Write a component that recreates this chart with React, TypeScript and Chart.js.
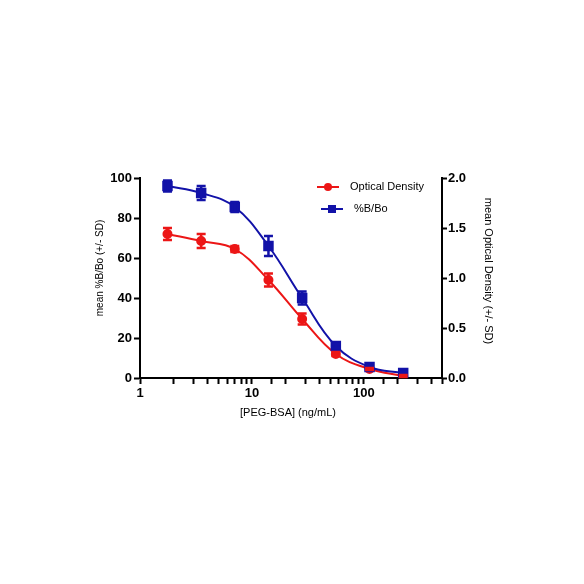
import React, { useEffect, useRef } from "react";
import { Chart, registerables } from "chart.js";

Chart.register(...registerables);

// ---- Data ----
const concentrations = [1.76, 3.52, 7.03, 14.06, 28.13, 56.25, 112.5, 225];
const pctBBo = [96, 92.5, 85.5, 66, 40, 16, 5.5, 2.5];
const pctBBoSD = [2.7, 3.5, 2.5, 5, 3.2, 1, 0.8, 0.5];
const opticalDensity = [1.44, 1.37, 1.29, 0.98, 0.59, 0.24, 0.09, 0.02];
const opticalDensitySD = [0.06, 0.07, 0.03, 0.065, 0.055, 0.02, 0.01, 0.01];
const xTickLabels = [1, 10, 100];
const seriesNames = ["Optical Density", "%B/Bo"];
const xTitle = "[PEG-BSA] (ng/mL)";
const leftTitle = "mean %B/Bo (+/- SD)";
const rightTitle = "mean Optical Density (+/- SD)";

const RED = "rgb(236,22,22)";
const BLUE = "rgb(18,18,168)";
const FONT = "'Liberation Sans', Arial, sans-serif";

const errorBarPlugin = {
  id: "errorBars",
  afterDatasetsDraw(chart: any) {
    const ctx = chart.ctx;
    const xScale = chart.scales.x;
    chart.data.datasets.forEach((ds: any) => {
      const sd = ds.sd as number[] | undefined;
      if (!sd) return;
      const yScale = chart.scales[ds.yAxisID];
      ctx.save();
      ctx.strokeStyle = ds.borderColor;
      ctx.lineWidth = 2.5;
      ds.data.forEach((pt: any, j: number) => {
        const x = xScale.getPixelForValue(pt.x);
        const yTop = yScale.getPixelForValue(pt.y + sd[j]);
        const yBot = yScale.getPixelForValue(pt.y - sd[j]);
        ctx.beginPath();
        ctx.moveTo(x, yTop);
        ctx.lineTo(x, yBot);
        ctx.moveTo(x - 4.5, yTop);
        ctx.lineTo(x + 4.5, yTop);
        ctx.moveTo(x - 4.5, yBot);
        ctx.lineTo(x + 4.5, yBot);
        ctx.stroke();
      });
      ctx.restore();
    });
  },
};

const titlesPlugin = {
  id: "axisTitles",
  afterDraw(chart: any) {
    const ctx = chart.ctx;
    const { left, right, top, bottom } = chart.chartArea;
    ctx.save();
    ctx.fillStyle = "#000";
    ctx.textAlign = "center";
    ctx.textBaseline = "middle";
    // x title
    ctx.font = `11px ${FONT}`;
    ctx.fillText(xTitle, (left + right) / 2 - 3, bottom + 35);
    // left title
    ctx.save();
    ctx.translate(left - 40, (top + bottom) / 2 - 10);
    ctx.rotate(-Math.PI / 2);
    ctx.font = `10px ${FONT}`;
    ctx.fillText(leftTitle, 0, 0);
    ctx.restore();
    // right title
    ctx.save();
    ctx.translate(right + 46, (top + bottom) / 2 - 7);
    ctx.rotate(Math.PI / 2);
    ctx.font = `11px ${FONT}`;
    ctx.fillText(rightTitle, 0, 0);
    ctx.restore();
    ctx.restore();
  },
};

const legendPlugin = {
  id: "customLegend",
  afterDraw(chart: any) {
    const ctx = chart.ctx;
    const { left, top } = chart.chartArea;
    const items = [
      { label: seriesNames[0], color: RED, style: "circle", cx: left + 188, tx: left + 210, dy: 9 },
      { label: seriesNames[1], color: BLUE, style: "rect", cx: left + 192, tx: left + 214, dy: 31 },
    ];
    ctx.save();
    items.forEach((it) => {
      const y = top + it.dy;
      ctx.strokeStyle = it.color;
      ctx.fillStyle = it.color;
      ctx.lineWidth = 2;
      ctx.beginPath();
      ctx.moveTo(it.cx - 11, y);
      ctx.lineTo(it.cx + 11, y);
      ctx.stroke();
      ctx.beginPath();
      if (it.style === "circle") {
        ctx.arc(it.cx, y, 4, 0, Math.PI * 2);
      } else {
        ctx.rect(it.cx - 4, y - 4, 8, 8);
      }
      ctx.fill();
      ctx.fillStyle = "#000";
      ctx.font = `11px ${FONT}`;
      ctx.textBaseline = "middle";
      ctx.textAlign = "left";
      ctx.fillText(it.label, it.tx, y);
    });
    ctx.restore();
  },
};

export default function App() {
  const canvasRef = useRef<HTMLCanvasElement | null>(null);

  useEffect(() => {
    if (!canvasRef.current) return;
    Chart.defaults.color = "#000";
    const gridCommon = {
      drawOnChartArea: false,
      drawTicks: true,
      tickLength: 6,
      tickColor: "#000",
      tickWidth: 2,
      color: "#000",
    };
    const borderCommon = { display: true, color: "#000", width: 2 };
    const tickFont = { family: FONT, size: 13, weight: "bold" as const };

    const chart = new Chart(canvasRef.current, {
      type: "line",
      data: {
        datasets: [
          {
            label: seriesNames[1],
            data: concentrations.map((x, i) => ({ x, y: pctBBo[i] })),
            sd: pctBBoSD,
            yAxisID: "y",
            borderColor: BLUE,
            backgroundColor: BLUE,
            pointBackgroundColor: BLUE,
            pointBorderColor: BLUE,
            pointStyle: "rect",
            pointRadius: 6,
            borderWidth: 2,
            tension: 0.4,
            fill: false,
          } as any,
          {
            label: seriesNames[0],
            data: concentrations.map((x, i) => ({ x, y: opticalDensity[i] })),
            sd: opticalDensitySD,
            yAxisID: "y1",
            borderColor: RED,
            backgroundColor: RED,
            pointBackgroundColor: RED,
            pointBorderColor: RED,
            pointStyle: "circle",
            pointRadius: 4,
            borderWidth: 2,
            tension: 0.4,
            fill: false,
          } as any,
        ],
      },
      options: {
        responsive: false,
        animation: false,
        layout: { padding: { left: 88, right: 90, top: 178, bottom: 164 } },
        plugins: {
          legend: { display: false },
          tooltip: { enabled: false },
        },
        scales: {
          x: {
            type: "logarithmic",
            min: 1,
            max: 500,
            grid: gridCommon,
            border: borderCommon,
            afterFit: (s: any) => {
              s.height = 42;
            },
            ticks: {
              autoSkip: false,
              maxRotation: 0,
              padding: 2,
              font: tickFont,
              color: "#000",
              callback: (v: any) => (xTickLabels.includes(Number(v)) ? String(v) : ""),
            },
          },
          y: {
            type: "linear",
            position: "left",
            min: 0,
            max: 100,
            grid: gridCommon,
            border: borderCommon,
            afterFit: (s: any) => {
              s.width = 52;
            },
            ticks: { stepSize: 20, padding: 2, font: tickFont, color: "#000" },
          },
          y1: {
            type: "linear",
            position: "right",
            min: 0,
            max: 2,
            grid: { ...gridCommon, tickLength: 5 },
            border: borderCommon,
            afterFit: (s: any) => {
              s.width = 52;
            },
            ticks: {
              stepSize: 0.5,
              padding: 1,
              font: tickFont,
              color: "#000",
              callback: (v: any) => Number(v).toFixed(1),
            },
          },
        },
      } as any,
      plugins: [errorBarPlugin, titlesPlugin, legendPlugin],
    });
    return () => chart.destroy();
  }, []);

  return (
    <div style={{ position: "fixed", left: 0, top: 0, width: 584, height: 584, background: "#fff" }}>
      <canvas ref={canvasRef} width={584} height={584} />
    </div>
  );
}
